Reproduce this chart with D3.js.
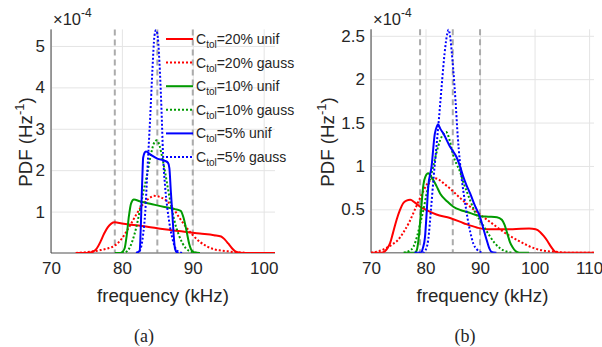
<!DOCTYPE html>
<html>
<head>
<meta charset="utf-8">
<script src="https://cdn.jsdelivr.net/npm/d3@7"></script>
<style>
  body { margin: 0; background: #fff; }
  text { font-family: "Liberation Sans", Arial, sans-serif; fill: #262626; }
</style>
</head>
<body>
<div id="chart"></div>
<script>
// values are PDF in units of 1e-4 Hz^-1, frequency in kHz

// panel (a)
var aRedUnif = [[73.5,0],[75,0],[75.5,0.01],[76,0.04],[76.5,0.12],[77,0.28],[77.5,0.47],[78,0.62],[78.5,0.71],[79,0.74],[80,0.71],[82,0.67],[85,0.6],[88,0.53],[91,0.47],[93,0.43],[94,0.4],[94.5,0.33],[95,0.23],[95.5,0.12],[96,0.04],[96.5,0.01],[97,0],[101.6,0]];
var aRedGauss = [[73.5,0],[75,0.02],[76,0.04],[77,0.07],[78,0.11],[79,0.18],[80,0.35],[81,0.62],[82,0.92],[83,1.18],[84,1.34],[84.5,1.38],[85,1.37],[86,1.3],[87,1.14],[88,0.88],[89,0.64],[90,0.43],[91,0.27],[92,0.16],[93,0.09],[94,0.06],[95,0.04],[96,0.02],[97,0.01],[98,0],[101.6,0]];
var aGreenUnif = [[79,0],[79.8,0],[80.1,0.03],[80.4,0.12],[80.7,0.45],[81,0.9],[81.3,1.2],[81.7,1.29],[82.5,1.25],[84,1.19],[86,1.11],[87.5,1.06],[88.3,1.02],[88.7,0.85],[89.1,0.55],[89.5,0.22],[89.9,0.05],[90.3,0.01],[91,0]];
var aGreenGauss = [[80,0],[80.5,0.02],[81,0.1],[81.5,0.3],[82,0.6],[82.5,1.0],[83,1.45],[83.5,1.85],[84,2.3],[84.5,2.64],[84.9,2.72],[85.3,2.6],[85.7,2.3],[86.1,1.95],[86.5,1.55],[87,1.1],[87.5,0.72],[88,0.45],[88.5,0.25],[89,0.12],[89.5,0.05],[90,0.02],[91,0]];
var aBlueUnif = [[82,0],[82.5,0.05],[82.6,0.3],[82.7,0.8],[82.8,1.4],[82.9,1.9],[83,2.3],[83.2,2.42],[83.4,2.45],[84,2.38],[85,2.28],[86,2.23],[86.5,2.18],[86.7,2.05],[86.9,1.5],[87.1,1.0],[87.3,0.45],[87.5,0.1],[87.8,0.01],[88,0]];
var aBlueGauss = [[82,0],[82.5,0.05],[83,0.45],[83.3,1.0],[83.6,2.0],[84,3.3],[84.3,4.4],[84.6,5.25],[84.8,5.38],[85,5.3],[85.3,4.6],[85.6,3.4],[85.8,2.4],[86.1,1.6],[86.4,1.1],[86.8,0.62],[87.2,0.3],[87.6,0.1],[88,0.03],[88.5,0]];

// panel (b)
var bRedUnif = [[70,0],[72,0],[72.6,0.02],[73,0.05],[73.5,0.11],[74,0.22],[74.7,0.38],[75.3,0.49],[75.9,0.57],[76.5,0.6],[77.2,0.61],[78,0.58],[79,0.53],[80.2,0.49],[82,0.44],[84.5,0.4],[87,0.34],[89.4,0.29],[91.2,0.27],[93,0.27],[96,0.27],[99,0.28],[100.2,0.27],[101,0.24],[101.7,0.19],[102.3,0.14],[103,0.07],[103.8,0.01],[104.5,0],[111,0]];
var bRedGauss = [[70,0],[71,0.01],[72,0.03],[73,0.06],[74,0.1],[75,0.15],[76,0.24],[77,0.35],[78,0.49],[79,0.63],[80,0.76],[81,0.84],[81.6,0.86],[82.5,0.84],[83.5,0.79],[84.5,0.74],[86,0.65],[88,0.54],[90,0.44],[91.5,0.37],[93,0.3],[95,0.21],[97,0.14],[98.5,0.09],[100,0.05],[102,0.02],[104,0.01],[106,0],[111,0]];
var bGreenUnif = [[76,0],[78,0],[78.4,0.03],[78.8,0.2],[79.2,0.5],[79.6,0.78],[80,0.88],[80.5,0.915],[81,0.88],[82,0.77],[82.7,0.68],[84,0.59],[85.1,0.53],[86.5,0.49],[87.6,0.47],[89,0.44],[90,0.42],[91.5,0.415],[93.1,0.41],[94,0.38],[94.5,0.32],[95,0.22],[95.5,0.12],[96,0.06],[96.5,0.02],[97.2,0],[99,0]];
var bGreenGauss = [[76,0],[77,0.02],[77.8,0.07],[78.5,0.2],[79,0.33],[79.6,0.49],[80.2,0.68],[80.8,0.84],[81.4,0.99],[82,1.15],[82.7,1.3],[83.3,1.37],[83.8,1.39],[84.4,1.3],[85.1,1.12],[85.7,1.02],[86.3,0.94],[87,0.8],[87.6,0.7],[88.2,0.6],[89,0.48],[90,0.37],[91,0.27],[91.8,0.19],[92.7,0.11],[93.7,0.05],[95,0.01],[96,0]];
var bBlueUnif = [[78,0],[79.2,0],[79.5,0.05],[79.9,0.18],[80.2,0.45],[80.5,0.76],[81.1,0.99],[81.7,1.37],[82.1,1.46],[82.3,1.48],[82.7,1.43],[83.3,1.37],[84.5,1.22],[85.7,1.1],[86.3,1.0],[86.9,0.88],[87.5,0.78],[88.2,0.68],[89,0.55],[90,0.41],[90.6,0.28],[91.2,0.15],[91.7,0.05],[92.1,0.01],[93,0]];
var bBlueGauss = [[78,0],[79.5,0],[80,0.03],[80.5,0.15],[81,0.5],[81.5,0.88],[82,1.22],[82.4,1.5],[83,1.95],[83.5,2.3],[84,2.53],[84.2,2.57],[84.5,2.5],[84.8,2.32],[85.1,2.1],[85.5,1.75],[85.9,1.35],[86.3,1.05],[86.7,0.82],[87.2,0.6],[87.7,0.4],[88.2,0.24],[88.8,0.1],[89.4,0.04],[90,0.01],[90.5,0]];

var markerFreqs = [79, 85, 90];
var seriesNames = ["20% unif", "20% gauss", "10% unif", "10% gauss", "5% unif", "5% gauss"];
var seriesColors = ["#ff0000", "#ff0000", "#009a00", "#009a00", "#0000ff", "#0000ff"];
var seriesDotted = [false, true, false, true, false, true];

var aXTicks = [70, 80, 90, 100];
var aYTicks = [1, 2, 3, 4, 5];
var bXTicks = [70, 80, 90, 100, 110];
var bYTicks = [0.5, 1, 1.5, 2, 2.5];

var svg = d3.select("#chart")
    .append("svg")
      .attr("width", 602)
      .attr("height", 347);

function drawPanel(p) {
    var x = d3.scaleLinear().domain(p.xDomain).range([p.left, p.right]);
    var y = d3.scaleLinear().domain(p.yDomain).range([p.bottom, p.top]);
    var g = svg.append("g");

    // grid + tick labels
    var gx = g.append("g")
        .attr("transform", "translate(0," + p.bottom + ")")
        .call(d3.axisBottom(x).tickValues(p.xTicks).tickSize(-(p.bottom - p.top)).tickPadding(9).tickFormat(d3.format("d")));
    var gy = g.append("g")
        .attr("transform", "translate(" + p.left + ",0)")
        .call(d3.axisLeft(y).tickValues(p.yTicks).tickSize(-(p.right - p.left)).tickPadding(6).tickFormat(function(d) { return String(d); }));
    [gx, gy].forEach(function(a) {
        a.select(".domain").remove();
        a.selectAll("line").attr("stroke", "#e4e4e4");
        a.selectAll("text").style("font-size", "17px").attr("fill", "#262626")
            .style("font-family", "'Liberation Sans', Arial, sans-serif");
    });

    // dashed reference lines
    g.selectAll(".marker")
        .data(markerFreqs)
        .enter()
        .append("line")
        .attr("x1", function(d) { return x(d); })
        .attr("x2", function(d) { return x(d); })
        .attr("y1", p.top)
        .attr("y2", p.bottom)
        .attr("stroke", "#ababab")
        .attr("stroke-width", 2)
        .attr("stroke-dasharray", "6,4");

    // axis lines
    g.append("line").attr("x1", p.left).attr("x2", p.right).attr("y1", p.bottom).attr("y2", p.bottom)
        .attr("stroke", "#8a8a8a").attr("stroke-width", 1.5);
    g.append("line").attr("x1", p.left).attr("x2", p.left).attr("y1", p.top).attr("y2", p.bottom)
        .attr("stroke", "#404040").attr("stroke-width", 1);

    var clipId = "clip" + p.tag;
    svg.append("clipPath").attr("id", clipId)
        .append("rect")
        .attr("x", p.left).attr("y", p.top - 2)
        .attr("width", p.right - p.left).attr("height", p.bottom - p.top + 2);

    var line = d3.line()
        .x(function(d) { return x(d[0]); })
        .y(function(d) { return y(d[1]); })
        .curve(d3.curveMonotoneX);

    g.append("g").attr("clip-path", "url(#" + clipId + ")")
        .selectAll("path")
        .data(p.curves)
        .enter()
        .append("path")
        .attr("d", function(d) { return line(d); })
        .attr("fill", "none")
        .attr("stroke", function(d, i) { return seriesColors[i]; })
        .attr("stroke-width", 2)
        .attr("stroke-dasharray", function(d, i) { return seriesDotted[i] ? "2,2" : null; });

    // exponent label
    var ex = g.append("text").attr("x", p.left + 2).attr("y", 25).style("font-size", "16.5px");
    ex.append("tspan").text("\u00d710");
    ex.append("tspan").attr("dy", -8).style("font-size", "12px").text("-4");

    // axis titles
    g.append("text")
        .attr("text-anchor", "middle")
        .attr("x", (p.left + p.right) / 2)
        .attr("y", 301.5)
        .style("font-size", "18.7px")
        .text("frequency (kHz)");

    var yl = g.append("text")
        .attr("text-anchor", "middle")
        .attr("transform", "translate(" + p.ylabX + "," + 142 + ")rotate(-90)")
        .style("font-size", "18.7px");
    yl.append("tspan").text("PDF (Hz");
    yl.append("tspan").attr("dy", -8).style("font-size", "13px").text("-1");
    yl.append("tspan").attr("dy", 8).text(")");

    g.append("text")
        .attr("text-anchor", "middle")
        .attr("x", p.labelX)
        .attr("y", 342)
        .style("font-family", "'Liberation Serif', 'Times New Roman', serif")
        .style("font-size", "18px")
        .attr("fill", "#000")
        .text("(" + p.tag + ")");

    return g;
}

drawPanel({
    tag: "a", left: 51, right: 275, top: 29.4, bottom: 253,
    xDomain: [70, 101.6], yDomain: [0, 5.4],
    xTicks: aXTicks, yTicks: aYTicks, labelX: 144, ylabX: 32,
    curves: [aRedUnif, aRedGauss, aGreenUnif, aGreenGauss, aBlueUnif, aBlueGauss]
});

drawPanel({
    tag: "b", left: 371, right: 594, top: 29.3, bottom: 252.7,
    xDomain: [70, 110.9], yDomain: [0, 2.575],
    xTicks: bXTicks, yTicks: bYTicks, labelX: 465, ylabX: 334,
    curves: [bRedUnif, bRedGauss, bGreenUnif, bGreenGauss, bBlueUnif, bBlueGauss]
});

// legend (in panel a)
var legend = svg.append("g");
seriesNames.forEach(function(name, i) {
    var cy = 39 + i * 23.6;
    legend.append("line")
        .attr("x1", 166).attr("x2", 193)
        .attr("y1", cy).attr("y2", cy)
        .attr("stroke", seriesColors[i])
        .attr("stroke-width", 2)
        .attr("stroke-dasharray", seriesDotted[i] ? "2,2" : null);
    var t = legend.append("text").attr("x", 196).attr("y", cy + 5).style("font-size", "14px");
    t.append("tspan").text("C");
    t.append("tspan").attr("dy", 4).style("font-size", "10px").text("tol");
    t.append("tspan").attr("dy", -4).text("=" + name);
});
</script>
</body>
</html>
